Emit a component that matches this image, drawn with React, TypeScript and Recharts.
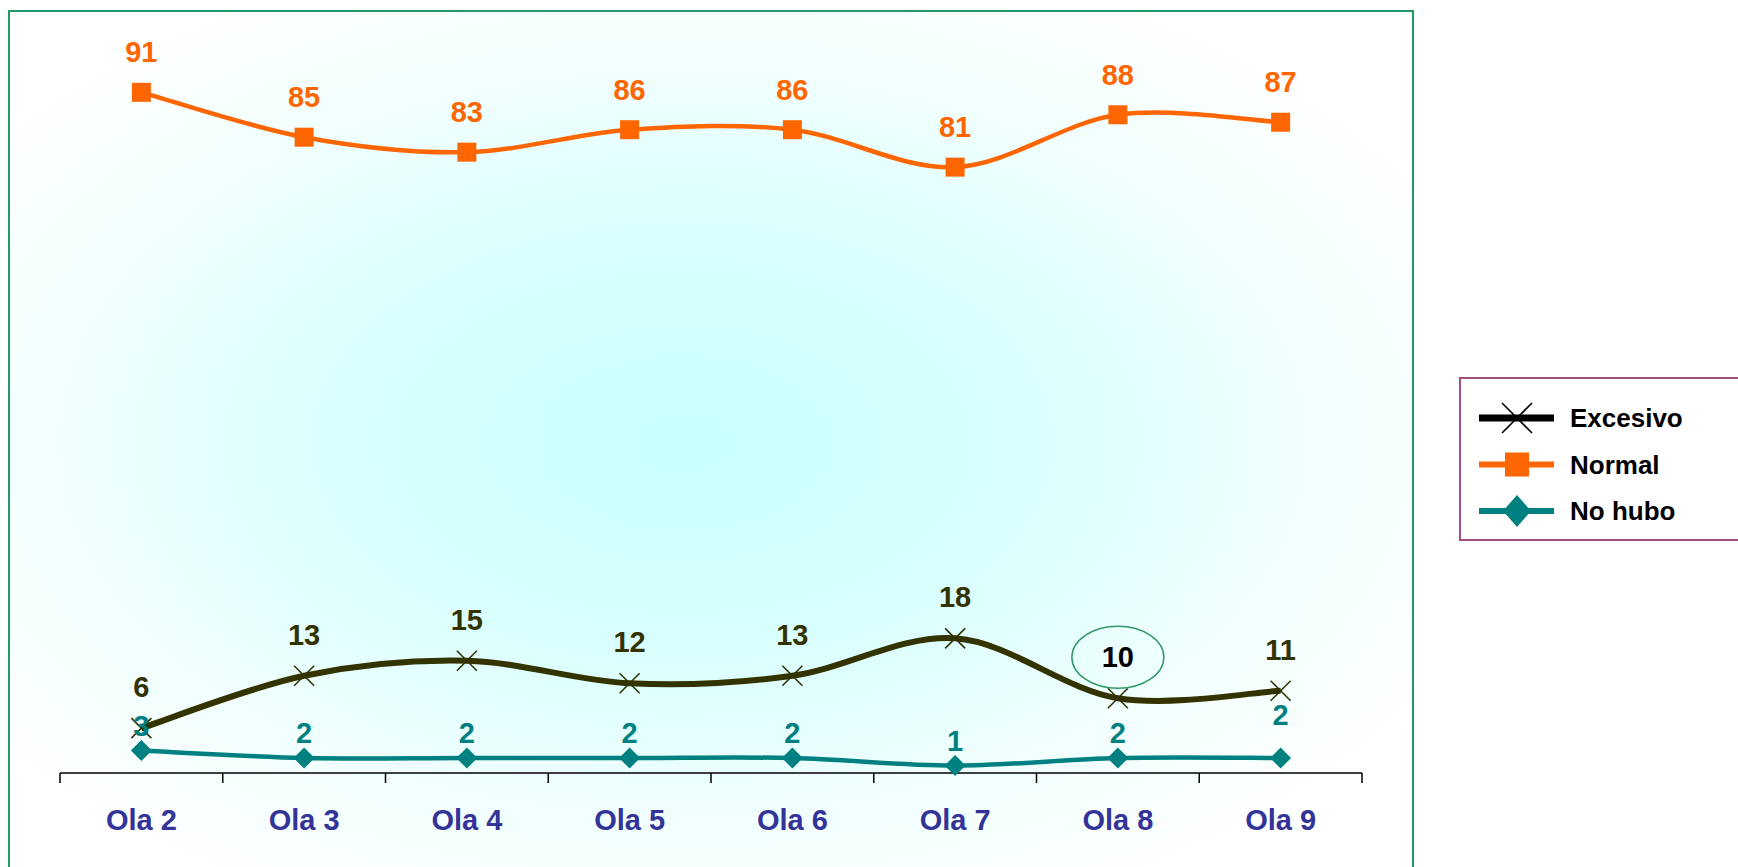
import { LabelList, Legend, Line, LineChart, XAxis, YAxis } from 'recharts'

const categories = ['Ola 2', 'Ola 3', 'Ola 4', 'Ola 5', 'Ola 6', 'Ola 7', 'Ola 8', 'Ola 9']
const excesivo = [6, 13, 15, 12, 13, 18, 10, 11]
const normal = [91, 85, 83, 86, 86, 81, 88, 87]
const noHubo = [3, 2, 2, 2, 2, 1, 2, 2]

const data = categories.map((ola, i) => ({
  ola,
  excesivo: excesivo[i],
  normal: normal[i],
  noHubo: noHubo[i],
}))

const W = 1738
const H = 867
const margin = { top: 25, right: 376, left: 60, bottom: 34 }
const band = (W - margin.left - margin.right) / categories.length
const FONT = '"Liberation Sans", Arial, sans-serif'

const C_EXC = '#333300'
const C_NOR = '#ff6600'
const C_NO = '#008080'

// excel-like smoothing (catmull-rom as bezier)
function excelCurve(context: any) {
  let pts: number[][] = []
  return {
    areaStart() {},
    areaEnd() {},
    lineStart() {
      pts = []
    },
    point(x: number, y: number) {
      pts.push([+x, +y])
    },
    lineEnd() {
      const n = pts.length
      if (!n) return
      context.moveTo(pts[0][0], pts[0][1])
      for (let i = 0; i < n - 1; i++) {
        const p0 = pts[i - 1] || pts[i]
        const p1 = pts[i]
        const p2 = pts[i + 1]
        const p3 = pts[i + 2] || p2
        context.bezierCurveTo(
          p1[0] + (p2[0] - p0[0]) / 6,
          p1[1] + (p2[1] - p0[1]) / 6,
          p2[0] - (p3[0] - p1[0]) / 6,
          p2[1] - (p3[1] - p1[1]) / 6,
          p2[0],
          p2[1],
        )
      }
    },
  }
}

const SquareDot = (props: any) => {
  const { cx, cy } = props
  if (cx == null || cy == null) return null
  return <rect x={cx - 9.5} y={cy - 9.5} width={19} height={19} fill={C_NOR} />
}

const CrossDot = (props: any) => {
  const { cx, cy } = props
  if (cx == null || cy == null) return null
  const s = 10
  return (
    <g stroke={C_EXC} strokeWidth={1.6}>
      <line x1={cx - s} y1={cy - s} x2={cx + s} y2={cy + s} />
      <line x1={cx - s} y1={cy + s} x2={cx + s} y2={cy - s} />
    </g>
  )
}

const DiamondDot = (props: any) => {
  const { cx, cy } = props
  if (cx == null || cy == null) return null
  const s = 10.5
  return (
    <polygon
      points={`${cx},${cy - s} ${cx + s},${cy} ${cx},${cy + s} ${cx - s},${cy}`}
      fill={C_NO}
    />
  )
}

const labelText = (x: number, y: number, value: any, color: string) => (
  <text
    x={x}
    y={y}
    textAnchor="middle"
    fill={color}
    fontFamily={FONT}
    fontWeight="bold"
    fontSize={29}
  >
    {value}
  </text>
)

const NormalLabel = (props: any) => {
  const { x, y, value } = props
  return labelText(x, y - 30, value, C_NOR)
}

const ExcesivoLabel = (props: any) => {
  const { x, y, value, index } = props
  if (index === 6) {
    return (
      <g>
        <ellipse cx={x} cy={y - 41} rx={46} ry={31} fill="none" stroke="#339966" strokeWidth={1.5} />
        {labelText(x, y - 31, value, '#000000')}
      </g>
    )
  }
  return labelText(x, y - 31, value, C_EXC)
}

const NoHuboLabel = (props: any) => {
  const { x, y, value, index } = props
  const lift = index === 7 ? 33 : 15
  return labelText(x, y - lift, value, C_NO)
}

const AxisTick = (props: any) => {
  const { x, y, payload, index } = props
  return (
    <g>
      <line x1={x - band / 2} y1={y} x2={x - band / 2} y2={y + 10} stroke="#000" strokeWidth={1.5} />
      {index === categories.length - 1 && (
        <line x1={x + band / 2} y1={y} x2={x + band / 2} y2={y + 10} stroke="#000" strokeWidth={1.5} />
      )}
      <text
        x={x}
        y={y + 57}
        textAnchor="middle"
        fill="#333399"
        fontFamily={FONT}
        fontWeight="bold"
        fontSize={29}
      >
        {payload.value}
      </text>
    </g>
  )
}

const legendItems = [
  { name: 'Excesivo', color: C_EXC, shape: 'cross' },
  { name: 'Normal', color: C_NOR, shape: 'square' },
  { name: 'No hubo', color: C_NO, shape: 'diamond' },
]

const LegendBox = () => (
  <div
    style={{
      width: 300,
      height: 164,
      boxSizing: 'border-box',
      border: '2px solid #a0507e',
      background: '#ffffff',
    }}
  >
    <svg width={296} height={160} style={{ display: 'block' }}>
      {legendItems.map((it, i) => {
        const cy = 39 + i * 46.5
        const cx = 56
        return (
          <g key={it.name}>
            <line x1={18} y1={cy} x2={93} y2={cy} stroke={it.shape === 'cross' ? '#000' : it.color} strokeWidth={it.shape === 'cross' ? 7 : 6} />
            {it.shape === 'cross' && (
              <g stroke="#000" strokeWidth={1.6}>
                <line x1={cx - 15} y1={cy - 15} x2={cx + 15} y2={cy + 15} />
                <line x1={cx - 15} y1={cy + 15} x2={cx + 15} y2={cy - 15} />
              </g>
            )}
            {it.shape === 'square' && <rect x={cx - 12} y={cy - 12} width={24} height={24} fill={it.color} />}
            {it.shape === 'diamond' && (
              <polygon points={`${cx},${cy - 16} ${cx + 14},${cy} ${cx},${cy + 16} ${cx - 14},${cy}`} fill={it.color} />
            )}
            <text x={109} y={cy + 9} fontFamily={FONT} fontWeight="bold" fontSize={26} fill="#000">
              {it.name}
            </text>
          </g>
        )
      })}
    </svg>
  </div>
)

export default function App() {
  return (
    <div style={{ position: 'absolute', left: 0, top: 0, width: W, height: H, overflow: 'hidden', background: '#fff' }}>
      <div
        style={{
          position: 'absolute',
          left: 8,
          top: 10,
          width: 1406,
          height: 900,
          boxSizing: 'border-box',
          border: '2px solid #229966',
          background: 'radial-gradient(ellipse 62% 58% at 48% 48%, #c8ffff 0%, #d6ffff 35%, #effffe 70%, #ffffff 100%)',
        }}
      />
      <div style={{ position: 'absolute', left: 0, top: 0 }}>
        <LineChart width={W} height={H} data={data} margin={margin}>
          <XAxis
            dataKey="ola"
            interval={0}
            height={60}
            padding={{ left: band / 2, right: band / 2 }}
            tickSize={0}
            tickMargin={0}
            tickLine={false}
            axisLine={{ stroke: '#000', strokeWidth: 1.5 }}
            tick={<AxisTick />}
          />
          <YAxis hide domain={[0, 100]} />
          <Legend
            verticalAlign="middle"
            align="center"
            layout="horizontal"
            content={() => <LegendBox />}
            wrapperStyle={{ left: 1459, top: 377, width: 300, height: 164 }}
          />
          <Line
            dataKey="noHubo"
            name="No hubo"
            type={excelCurve as any}
            stroke={C_NO}
            strokeWidth={4.5}
            dot={<DiamondDot />}
            activeDot={false}
            isAnimationActive={false}
          >
            <LabelList dataKey="noHubo" content={<NoHuboLabel />} />
          </Line>
          <Line
            dataKey="excesivo"
            name="Excesivo"
            type={excelCurve as any}
            stroke={C_EXC}
            strokeWidth={6}
            dot={<CrossDot />}
            activeDot={false}
            isAnimationActive={false}
          >
            <LabelList dataKey="excesivo" content={<ExcesivoLabel />} />
          </Line>
          <Line
            dataKey="normal"
            name="Normal"
            type={excelCurve as any}
            stroke={C_NOR}
            strokeWidth={4.5}
            dot={<SquareDot />}
            activeDot={false}
            isAnimationActive={false}
          >
            <LabelList dataKey="normal" content={<NormalLabel />} />
          </Line>
        </LineChart>
      </div>
    </div>
  )
}
